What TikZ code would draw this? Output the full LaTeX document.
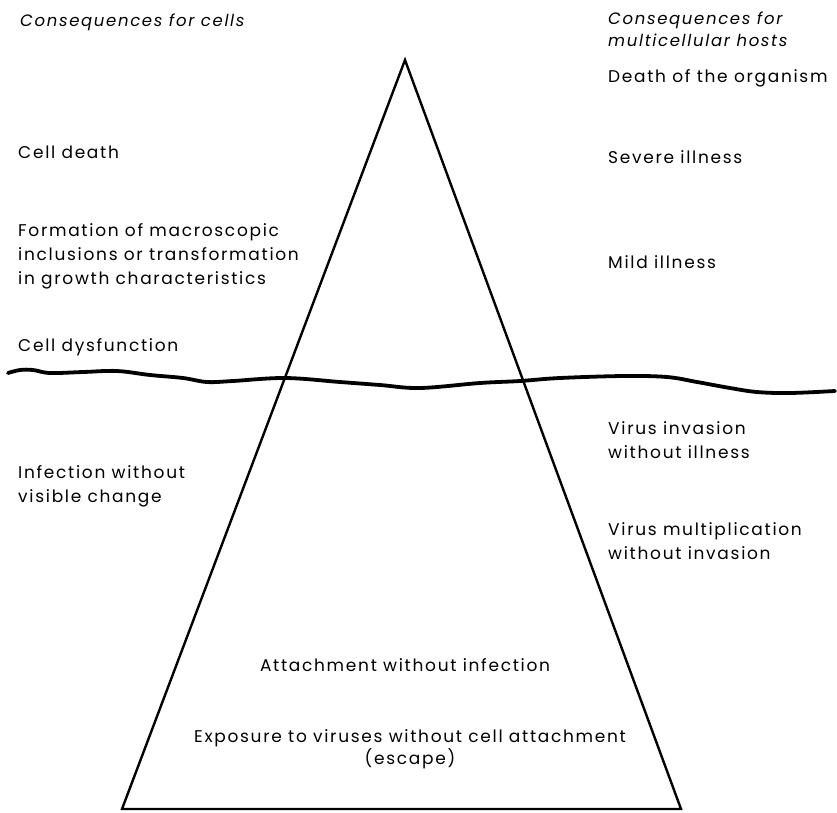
\documentclass[tikz,border=0pt]{standalone}
\usepackage{fontspec}
\setmainfont[LetterSpace=10]{Poppins}
\usepackage{tikz}

\tikzset{
  lbl/.style={anchor=west, inner sep=0pt, font=\fontsize{17}{24}\selectfont, align=left},
  mid/.style={anchor=center, inner sep=0pt, font=\fontsize{17}{22}\selectfont, align=center},
  head/.style={lbl, font=\fontsize{16.5}{22}\selectfont\itshape},
}

\begin{document}
\begin{tikzpicture}[x=1pt,y=-1pt]
	    \useasboundingbox (0,0) rectangle (837,812);
	    % pyramid
	    \coordinate (apex) at (405,60);
	    \coordinate (bl) at (122,809);
	    \coordinate (br) at (681,809);
	    \draw[line width=2.4pt, line join=miter] (apex) -- (bl) -- (br) -- cycle;
	    
	    % water line
	    \draw[line width=3.8pt, line cap=round] plot[smooth, tension=0.6] coordinates {
	      (8,373) (20,370) (33,370) (50,373) (83,372) (117,371) (150,375) (183,378)
	      (207,382) (233,381) (285,378) (340,382) (380,385) (420,388) (480,383)
	      (520,381) (560,378) (624,376) (667,377) (697,382) (730,388) (757,392)
	      (790,393) (835,391)};
	    
	    % left column
	    \node[head] at (20,22) (cellhead) {Consequences for cells};
	    \node[lbl] at (18,152) (death) {Cell death};
	    \node[lbl] at (18,256) (formation) {Formation of macroscopic\\inclusions or transformation\\in growth characteristics};
	    \node[lbl] at (18,347) (dysf) {Cell dysfunction};
	    \node[lbl] at (18,486) (novis) {Infection without\\visible change};
	    
	    % right column
	    \node[head] at (608,29) (hosthead) {Consequences for\\multicellular hosts};
	    \node[lbl] at (608,78) (organism) {Death of the organism};
	    \node[lbl] at (608,157) (severe) {Severe illness};
	    \node[lbl] at (608,262) (mild) {Mild illness};
	    \node[lbl] at (608,440) (invasion) {Virus invasion\\without illness};
	    \node[lbl] at (608,541) (multi) {Virus multiplication\\without invasion};
	    
	    % inside the pyramid
	    \node[mid] at (405,665) (attach) {Attachment without infection};
	    \node[mid] at (410,749) (exposure) {Exposure to viruses without cell attachment\\(escape)};
	\end{tikzpicture}
\end{document}
